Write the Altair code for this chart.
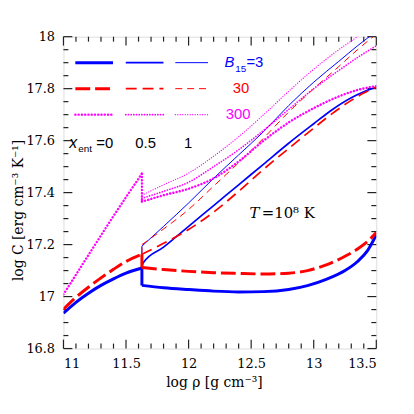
import altair as alt
import pandas as pd

X_DOMAIN = [11.0, 13.5]
Y_DOMAIN = [16.8, 18.0]
W, H = 316, 315

BLUE, RED, MAG = "#0000ff", "#ff0000", "#ff00ff"

# ---------------- curve data (log rho, log C) ----------------
# B15 = 3, x_ent = 0
b0_pre_x = [11.0, 11.1, 11.2, 11.3, 11.4, 11.5, 11.627]
b0_pre_y = [16.936, 16.978, 17.013, 17.043, 17.068, 17.09, 17.11]
b0_post_x = [11.627, 11.8, 12.0, 12.2, 12.4, 12.6, 12.8, 12.95, 13.1, 13.25, 13.35, 13.43, 13.5]
b0_post_y = [17.043, 17.034, 17.027, 17.021, 17.018, 17.019, 17.027, 17.042, 17.066, 17.1, 17.135, 17.177, 17.237]
# B15 = 3, x_ent = 0.5
b5_x = [11.627, 11.635, 11.8, 12.0, 12.2, 12.4, 12.6, 12.8, 13.0, 13.15, 13.3, 13.4, 13.5]
b5_y = [17.11, 17.128, 17.19, 17.27, 17.35, 17.43, 17.51, 17.59, 17.665, 17.72, 17.765, 17.788, 17.806]
# B15 = 3, x_ent = 1
b1_jump_y = [17.11, 17.194]
b1_x = [11.627, 11.8, 12.0, 12.2, 12.4, 12.6, 12.8, 13.0, 13.2, 13.35, 13.5]
b1_y = [17.194, 17.27, 17.36, 17.455, 17.545, 17.635, 17.735, 17.825, 17.905, 17.965, 18.02]

# B15 = 30, x_ent = 0
r0_pre_x = [11.0, 11.1, 11.2, 11.3, 11.4, 11.5, 11.627]
r0_pre_y = [16.951, 16.997, 17.036, 17.072, 17.105, 17.135, 17.163]
r0_post_x = [11.627, 11.8, 12.0, 12.2, 12.4, 12.6, 12.8, 12.95, 13.1, 13.25, 13.35, 13.43, 13.5]
r0_post_y = [17.112, 17.104, 17.097, 17.092, 17.089, 17.087, 17.09, 17.1, 17.122, 17.155, 17.183, 17.212, 17.246]
# B15 = 30, x_ent = 0.5
r5_x = [11.627, 11.8, 12.0, 12.2, 12.4, 12.6, 12.8, 13.0, 13.15, 13.3, 13.4, 13.5]
r5_y = [17.163, 17.205, 17.258, 17.325, 17.405, 17.49, 17.57, 17.648, 17.705, 17.755, 17.783, 17.806]
# B15 = 30, x_ent = 1
r1_jump_y = [17.163, 17.2]
r1_x = [11.627, 11.8, 12.0, 12.2, 12.4, 12.6, 12.8, 13.0, 13.2, 13.35, 13.5]
r1_y = [17.2, 17.26, 17.335, 17.425, 17.515, 17.61, 17.71, 17.8, 17.885, 17.95, 18.01]

# B15 = 300, x_ent = 0
m0_pre_x = [11.0, 11.2, 11.4, 11.627]
m0_pre_y = [17.008, 17.16, 17.31, 17.473]
m0_post_x = [11.627, 11.8, 12.0, 12.2, 12.4, 12.6, 12.8, 13.0, 13.2, 13.35, 13.5]
m0_post_y = [17.365, 17.39, 17.415, 17.455, 17.52, 17.6, 17.67, 17.725, 17.77, 17.795, 17.81]
# B15 = 300, x_ent = 0.5
m5_x = [11.627, 11.8, 12.0, 12.2, 12.4, 12.6, 12.8, 13.0, 13.2, 13.35, 13.5]
m5_y = [17.378, 17.405, 17.44, 17.5, 17.565, 17.64, 17.72, 17.8, 17.87, 17.92, 17.965]
# B15 = 300, x_ent = 1
m1_x = [11.627, 11.8, 12.0, 12.2, 12.4, 12.6, 12.8, 13.0, 13.2, 13.35, 13.5]
m1_y = [17.39, 17.43, 17.475, 17.54, 17.615, 17.7, 17.79, 17.875, 17.95, 18.0, 18.05]

JUMP_X = 11.627

# ---------------- legend (data coordinates) ----------------
leg_cols_x = [[11.095, 11.396], [11.498, 11.799], [11.894, 12.155]]
leg_rows_y = [17.9, 17.8, 17.7]

# ---------------- ticks ----------------
x_major = [11.0, 11.5, 12.0, 12.5, 13.0, 13.5]
x_minor = [round(11.0 + 0.1 * i, 2) for i in range(26) if i % 5 != 0]
y_major = [16.8, 17.0, 17.2, 17.4, 17.6, 17.8, 18.0]
y_minor = [round(16.8 + 0.05 * i, 3) for i in range(25) if i % 4 != 0]

xs = alt.Scale(domain=X_DOMAIN, nice=False, zero=False)
ys = alt.Scale(domain=Y_DOMAIN, nice=False, zero=False)

AX = alt.Axis(values=x_major, format="~g", ticks=False, domain=False, grid=False,
              labelFont="DejaVu Serif", labelFontSize=13, labelColor="black", labelPadding=9,
              title="log ρ  [g  cm⁻³]", titleFont="DejaVu Serif", titleFontSize=14,
              titleFontWeight="normal", titleColor="black", titleX=152, titleY=38,
              titleBaseline="alphabetic", titleAlign="center")
AY = alt.Axis(values=y_major, format="~g", ticks=False, domain=False, grid=False,
              labelFont="DejaVu Serif", labelFontSize=13, labelColor="black", labelPadding=9,
              title="log C  [erg  cm⁻³  K⁻¹]", titleFont="DejaVu Serif", titleFontSize=14,
              titleFontWeight="normal", titleColor="black", titleX=-41, titleY=175,
              titleBaseline="alphabetic", titleAlign="center", titleAngle=-90)


def segs(*parts):
    rows = []
    for s, (px, py) in enumerate(parts):
        for i, (a, b) in enumerate(zip(px, py)):
            rows.append({"x": a, "y": b, "seg": s, "i": i})
    return pd.DataFrame(rows)


def line(df, color, width, dash=None, cap="butt"):
    kw = dict(color=color, strokeWidth=width, interpolate="monotone", clip=True, strokeCap=cap)
    if dash is not None:
        kw["strokeDash"] = dash
    return alt.Chart(df).mark_line(**kw).encode(
        x=alt.X("x:Q", scale=xs, axis=AX),
        y=alt.Y("y:Q", scale=ys, axis=AY),
        detail="seg:N",
        order="i:Q",
    )


def leg(col, row):
    return (leg_cols_x[col], [leg_rows_y[row]] * 2)


D_R0 = [15, 5]
D_R5 = [11, 6]
D_R1 = [7, 5]
D_M0 = [0.1, 3.2]
D_M5 = [0.1, 2.6]
D_M1 = [0.1, 2.4]

layers = []
# x_ent = 1 (thin)
layers.append(line(segs(([JUMP_X, JUMP_X], b1_jump_y), (b1_x, b1_y), leg(2, 0)), BLUE, 1.0))
layers.append(line(segs(([JUMP_X, JUMP_X], r1_jump_y), (r1_x, r1_y), leg(2, 1)), RED, 1.0, D_R1))
layers.append(line(segs((m1_x, m1_y), leg(2, 2)), MAG, 1.2, D_M1, "round"))
# x_ent = 0.5 (medium)
layers.append(line(segs((b5_x, b5_y), leg(1, 0)), BLUE, 1.7))
layers.append(line(segs((r5_x, r5_y), leg(1, 1)), RED, 1.7, D_R5))
layers.append(line(segs((m5_x, m5_y), leg(1, 2)), MAG, 1.7, D_M5, "round"))
# x_ent = 0 (thick)
layers.append(line(segs((b0_pre_x, b0_pre_y), ([JUMP_X, JUMP_X], [b0_pre_y[-1], b0_post_y[0]]),
                        (b0_post_x, b0_post_y), leg(0, 0)), BLUE, 3.0))
layers.append(line(segs((r0_pre_x, r0_pre_y), ([JUMP_X, JUMP_X], [r0_pre_y[-1], r0_post_y[0]]),
                        (r0_post_x, r0_post_y), leg(0, 1)), RED, 3.0, D_R0))
layers.append(line(segs((m0_pre_x, m0_pre_y), ([JUMP_X, JUMP_X], [m0_pre_y[-1], m0_post_y[0]]),
                        (m0_post_x, m0_post_y), leg(0, 2)), MAG, 2.4, D_M0, "round"))


# ---------------- texts ----------------
def text(xv, yv, txt, color="black", size=15, font="Liberation Sans", style="normal",
         align="left", baseline="alphabetic"):
    df = pd.DataFrame({"x": xv, "y": yv, "t": txt})
    return alt.Chart(df).mark_text(color=color, fontSize=size, font=font, fontStyle=style,
                                   align=align, baseline=baseline).encode(
        x=alt.X("x:Q", scale=xs, axis=AX), y=alt.Y("y:Q", scale=ys, axis=AY), text="t:N")


texts = [
    text([12.287], [17.883], ["B"], BLUE, 15, style="italic"),
    text([12.372], [17.865], ["15"], BLUE, 10),
    text([12.462], [17.883], ["=3"], BLUE, 15),
    text([12.353], [17.783], ["30"], RED, 15),
    text([12.297], [17.683], ["300"], MAG, 15),
    text([11.047], [17.573], ["x"], "black", 16, style="italic"),
    text([11.118], [17.558], ["ent"], "black", 10),
    text([11.262], [17.573], ["=0"], "black", 15),
    text([11.657, 11.997], [17.573, 17.573], ["0.5", "1"], "black", 15, align="center"),
    text([12.487], [17.303], ["T"], "black", 15, font="DejaVu Serif", style="italic"),
    text([12.585], [17.303], ["=10⁸  K"], "black", 15, font="DejaVu Serif"),
]

# ---------------- inward ticks ----------------
TICK = dict(color="#222", strokeWidth=1.2)


def xticks(vals, y0, y1):
    return alt.Chart(pd.DataFrame({"v": vals})).mark_rule(**TICK).encode(
        x=alt.X("v:Q", scale=xs, axis=AX), y=alt.value(y0), y2=alt.value(y1))


def yticks(vals, x0, x1):
    return alt.Chart(pd.DataFrame({"v": vals})).mark_rule(**TICK).encode(
        y=alt.Y("v:Q", scale=ys, axis=AY), x=alt.value(x0), x2=alt.value(x1))


ticks = [
    xticks(x_major, H, H - 9), xticks(x_minor, H, H - 5),
    xticks(x_major, 0, 9), xticks(x_minor, 0, 5),
    yticks(y_major, 0, 9), yticks(y_minor, 0, 5),
    yticks(y_major, W, W - 9), yticks(y_minor, W, W - 5),
]

chart = alt.layer(*ticks, *layers, *texts).properties(
    width=W, height=H, autosize="none",
    padding={"left": 56, "top": 27, "right": 30, "bottom": 50},
).configure_view(stroke="#222", strokeWidth=1.6).configure(background="white")

chart.save("out.html", embed_options={"renderer": "svg", "actions": False})
